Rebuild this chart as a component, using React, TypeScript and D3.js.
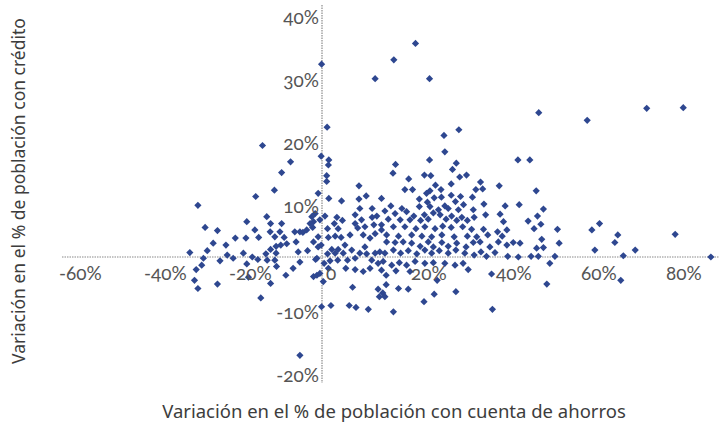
import React from "react";
import * as d3 from "d3";

// Change in % of population with a savings account (x) vs. with credit (y), in percentage points
const observations: [number, number][] = [
  [-0.1, 30.6], [1.2, 20.6], [-14.0, 17.7], [-0.2, 16.0], [1.6, 15.4], [1.5, 14.6], [-7.4, 15.1],
  [-9.5, 13.4], [1.1, 12.9], [1.1, 12.0], [-11.2, 10.6], [-15.6, 9.6], [-0.9, 10.1], [1.6, 9.3],
  [4.6, 8.9], [8.7, 9.2], [8.7, 11.3], [-29.2, 8.2],
  [22.0, 33.9], [16.9, 31.3], [12.5, 28.3], [25.3, 28.3], [51.0, 22.9], [62.4, 21.7], [76.4, 23.6],
  [85.0, 23.7], [32.2, 20.2], [28.7, 19.3], [28.9, 16.7], [25.3, 15.4], [46.1, 15.4], [48.9, 15.4],
  [17.3, 14.7], [31.6, 14.9], [30.7, 13.9], [16.7, 13.3], [24.1, 13.0], [25.6, 12.9], [32.4, 12.7],
  [34.0, 13.0], [20.4, 12.4], [26.7, 11.4], [30.4, 11.6], [37.3, 11.9], [41.7, 11.3], [19.5, 10.7],
  [21.3, 10.7], [25.4, 10.5], [28.0, 10.7], [36.2, 10.7], [37.8, 10.8], [50.4, 10.5], [10.4, 9.7],
  [14.0, 9.3], [24.6, 10.1], [26.4, 9.4], [28.1, 9.5], [30.4, 9.8], [32.6, 9.6], [35.4, 9.5],
  [22.9, 9.2], [24.8, 8.7], [31.4, 8.8], [28.9, 8.1], [33.3, 8.3], [38.1, 8.4], [43.1, 8.1],
  [46.4, 8.3], [52.1, 7.6], [16.2, 8.1], [11.8, 7.7], [18.8, 7.7],
  [-27.5, 4.7], [-24.6, 4.2], [-17.7, 5.6], [-13.0, 6.4], [-12.1, 5.3], [-9.5, 5.3], [-15.8, 4.3],
  [-12.2, 4.0], [-9.9, 4.0], [-20.4, 3.0], [-17.9, 3.0], [-14.9, 3.1], [-11.1, 3.2], [-8.9, 3.1],
  [-25.6, 2.2], [-22.6, 1.9], [-31.1, 0.7], [-27.0, 1.0], [-27.9, -0.2], [-28.3, -1.3], [-29.6, -2.0],
  [-24.0, -0.6], [-22.3, 0.3], [-20.9, -0.2], [-18.5, 0.6], [-16.4, 0.0], [-15.1, -0.4], [-13.2, 0.5],
  [-12.1, 1.2], [-10.8, 1.7], [-9.7, 1.9], [-10.8, 0.6], [-12.9, -0.5], [-11.1, -0.5], [-10.7, -1.5],
  [-17.7, -1.1], [-17.3, -3.2], [-30.0, -3.7], [-29.2, -5.0], [-24.6, -4.3], [-12.1, -4.2], [-8.5, -2.9],
  [-14.4, -6.5], [-8.3, 2.1],
  [-5.2, 4.0], [-6.4, 4.0], [-4.5, 3.9], [-3.6, 4.3], [-2.0, 5.6], [-2.2, 4.7], [-0.5, 5.9],
  [-1.6, 6.9], [0.7, 6.5], [-6.1, 2.4], [-2.0, 2.4], [-0.2, 1.9], [-0.9, 3.2], [-3.4, 1.0],
  [-1.5, -0.4], [-5.2, -0.8], [-6.8, -1.8], [-2.0, -3.1], [-1.2, -2.9], [-0.5, -2.6], [0.3, -3.9],
  [7.2, -4.8], [-0.1, -7.9], [2.1, -7.7], [6.4, -7.7], [8.0, -8.0], [-5.2, -15.6],
  [-2.4, 6.4], [-2.8, 5.3], [3.5, 6.3], [4.8, 5.8], [2.9, 5.3], [3.8, 4.5], [1.3, 4.5], [7.8, 6.7],
  [8.9, 7.7], [7.8, 5.3], [9.3, 5.9], [10.1, 4.8], [8.4, 4.6], [11.8, 6.3], [12.9, 6.5], [12.2, 5.1],
  [14.0, 4.3], [6.6, 3.5], [9.7, 3.5], [12.5, 3.7], [3.1, 3.3], [1.5, 3.1], [4.5, 3.1], [11.3, 3.0],
  [-5.6, 0.8], [-0.9, 1.6], [-1.2, -0.2], [1.3, 0.5], [2.3, 1.2], [3.1, 0.6], [3.8, 1.2], [0.5, -1.0],
  [1.9, -0.6], [3.7, -0.5], [1.5, -1.8], [5.0, 0.6], [5.4, 1.9], [7.0, 1.1], [6.0, -0.5], [7.8, -0.2],
  [8.9, 0.6], [10.1, 1.6], [10.5, 0.5], [11.7, -0.5], [11.3, -1.8], [9.7, -2.3], [7.8, -2.0],
  [5.6, -1.8], [12.5, 0.6], [13.6, 0.8], [13.2, -1.0], [14.0, -2.1], [13.2, -5.1], [14.3, -5.7],
  [10.9, -8.3],
  [22.9, 8.0], [25.4, 8.0], [27.4, 7.5], [29.7, 7.7], [32.1, 7.5], [35.6, 7.5], [14.8, 7.3],
  [19.9, 7.2], [17.2, 6.9], [21.6, 6.5], [24.1, 6.7], [26.2, 7.0], [27.8, 6.7], [30.5, 6.5],
  [32.9, 6.3], [35.8, 6.3], [15.6, 6.0], [18.4, 5.9], [20.7, 5.9], [23.2, 5.8], [25.0, 6.0],
  [29.2, 6.0], [31.7, 5.8], [34.2, 5.8], [14.0, 5.1], [16.8, 4.8], [19.5, 4.8], [22.1, 4.5],
  [24.2, 4.8], [26.6, 4.5], [28.4, 4.9], [30.4, 4.7], [33.1, 4.8], [35.2, 4.4], [15.2, 3.5],
  [18.0, 3.3], [21.1, 3.5], [23.5, 3.3], [25.8, 3.2], [28.2, 3.5], [31.1, 3.2], [34.2, 3.3],
  [36.4, 3.2],
  [15.2, 2.4], [17.2, 2.3], [19.1, 2.4], [21.1, 2.2], [23.1, 1.7], [25.0, 2.4], [26.2, 1.6],
  [28.2, 2.3], [29.7, 1.7], [31.7, 2.2], [33.9, 1.6], [35.6, 2.3], [14.8, 0.6], [16.8, 1.1],
  [18.5, 0.6], [20.3, 1.0], [22.3, 0.5], [24.2, 1.1], [25.8, 0.6], [27.6, 1.0], [29.7, 0.6],
  [31.5, 1.1], [33.6, 0.6], [35.8, 0.3], [14.4, -0.7], [16.4, -1.3], [18.2, -0.9], [19.9, -1.3],
  [21.9, -0.7], [24.2, -1.0], [26.2, -0.9], [28.9, -1.0], [31.3, -1.3], [33.2, -1.0], [15.1, -2.9],
  [17.4, -2.2], [20.7, -2.3], [27.1, -3.7], [34.4, -2.0], [18.0, -5.0], [20.3, -5.1], [15.1, -4.4],
  [14.8, -6.3], [13.5, -6.3], [26.4, -5.9], [31.5, -5.5], [24.0, -7.1], [16.8, -8.7],
  [38.5, 6.7], [41.9, 6.8], [50.7, 6.5], [42.7, 5.6], [48.5, 5.7], [51.5, 5.2], [49.9, 4.5],
  [55.4, 4.4], [38.0, 4.4], [43.5, 4.3], [41.3, 4.0], [39.0, 3.5], [42.4, 3.3], [51.7, 2.8],
  [37.4, 0.8], [39.5, 1.6], [41.5, 2.4], [40.7, 0.7], [43.5, 1.9], [45.0, 2.3], [46.6, 2.2],
  [43.7, 0.1], [46.2, 0.0], [49.2, 0.1], [50.9, 0.1], [50.5, 1.4], [52.1, 1.5], [55.8, 2.2],
  [54.8, 0.1], [53.6, -1.0], [39.9, -2.7], [52.9, -4.3], [40.1, -8.3], [37.2, 2.4], [38.7, 0.1],
  [63.5, 4.3], [65.3, 5.3], [64.2, 1.1], [69.6, 3.5], [68.9, 2.3], [70.9, 0.2], [73.7, 1.1],
  [70.3, -3.7], [83.1, 3.6], [91.5, 0.0],
];

const xTicks = [-60, -40, -20, 0, 20, 40, 60, 80];
const yTicks = [40, 30, 20, 10, -10, -20];

const xTitle = "Variación en el % de población con cuenta de ahorros";
const yTitle = "Variación en el % de población con crédito";

const W = 719;
const H = 424;
const TITLE_FONT = "'Noto Sans', 'Open Sans', sans-serif";
const TICK_FONT = "Lato, 'Noto Sans', sans-serif";
const LABEL_COLOR = "#555";
const MARK_COLOR = "#2e4790";

export default function App() {
  const x = d3.scaleLinear().domain([-60, 80]).range([67, 662]);
  const y = d3.scaleLinear().domain([-20, 40]).range([383, 5]);
  const diamond = d3.symbol(d3.symbolSquare, 26)();
  const pct = (v: number) => (v === 0 ? "0" : `${v}%`);

  return (
    <svg
      width={W}
      height={H}
      style={{ position: "absolute", left: 0, top: 0, background: "#fff" }}
      fontFamily={TITLE_FONT}
    >
      {/* axes crossing at the origin */}
      <line
        x1={62}
        x2={W}
        y1={y(0)}
        y2={y(0)}
        stroke="#8a8a8a"
        strokeWidth={1.2}
        strokeDasharray="1.5 1"
      />
      <line
        x1={x(0)}
        x2={x(0)}
        y1={y(40)}
        y2={y(-20)}
        stroke="#8a8a8a"
        strokeWidth={1.2}
        strokeDasharray="1.5 1"
      />

      {/* data points */}
      <g fill={MARK_COLOR}>
        {observations.map(([sx, cy], i) => (
          <path
            key={i}
            d={diamond!}
            transform={`translate(${x(sx)},${y(cy)}) rotate(45)`}
          />
        ))}
      </g>

      {/* tick labels */}
      <g
        fill={LABEL_COLOR}
        fontSize={19}
        fontFamily={TICK_FONT}
        style={{ fontVariantNumeric: "oldstyle-nums" }}
      >
        {xTicks.map((v) => (
          <text
            key={`x${v}`}
            x={x(v) + (v < 0 ? -8 : 4)}
            y={y(0) + 16}
            dy="0.35em"
            textAnchor="start"
          >
            {pct(v)}
          </text>
        ))}
        {yTicks.map((v) => (
          <text
            key={`y${v}`}
            x={x(0) - 3}
            y={y(v) + (v > 0 ? 12 : -8)}
            dy="0.35em"
            textAnchor="end"
          >
            {pct(v)}
          </text>
        ))}
      </g>

      {/* axis titles */}
      <text
        x={394}
        y={412}
        dy="0.35em"
        textAnchor="middle"
        fontSize={18.5}
        fill="#3d3d3d"
      >
        {xTitle}
      </text>
      <text
        transform={`translate(19,191) rotate(-90)`}
        dy="0.35em"
        textAnchor="middle"
        fontSize={17.5}
        fill="#3d3d3d"
      >
        {yTitle}
      </text>
    </svg>
  );
}
